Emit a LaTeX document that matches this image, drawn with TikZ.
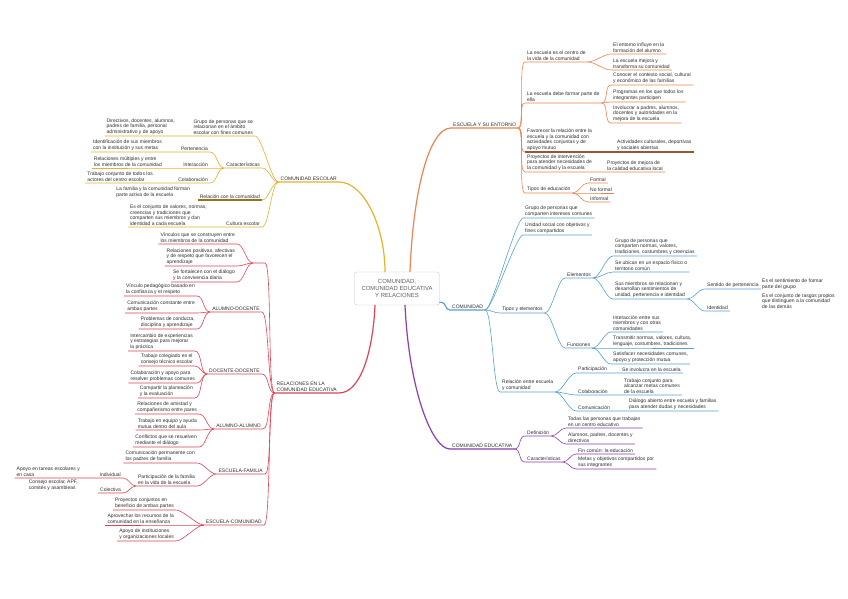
\documentclass[tikz,border=0pt]{standalone}
\usepackage{fontspec}
\setmainfont{Liberation Sans}
\usetikzlibrary{positioning}

\definecolor{ora}{RGB}{234,132,80}
\definecolor{ylw}{RGB}{231,178,40}
\definecolor{rdd}{RGB}{219,70,84}
\definecolor{blu}{RGB}{90,160,214}
\definecolor{prp}{RGB}{143,60,173}
\definecolor{ink}{RGB}{45,45,45}

\begin{document}
\begin{tikzpicture}[
    x=1pt, y=-1pt,
    font=\fontsize{5}{5.6}\selectfont,
    topic/.style={draw=black!22, rounded corners=2.5pt, fill=white, align=center,
                  text=black!62, font=\fontsize{5.9}{7}\selectfont,
                  minimum width=85pt, minimum height=33pt},
    sub/.style={align=left, text=ink, inner xsep=2pt, inner ysep=1.3pt},
    rs/.style={sub, anchor=south west},
    ls/.style={sub, anchor=south east},
    toR/.style={out=0, in=180, max distance=7pt},
    toL/.style={out=180, in=0, max distance=7pt},
    lnk/.style={draw=#1, line width=.6pt},
    trunk/.style={draw=#1, line width=1.2pt, line cap=round},
  ]

  \fill[white] (0,0) rectangle (848,599);

  %% ---- central topic ------------------------------------------------
  \node[topic] (TOP) at (397,288.5) {COMUNIDAD,\\ COMUNIDAD EDUCATIVA\\ Y RELACIONES};

  %% ---- escuela y entorno (orange) -------------------------------------
  \node[rs] (ESC) at (451,128) {ESCUELA Y SU ENTORNO};
  \node[rs] (O1)  at (525,62)  {La escuela es el centro de\\ la vida de la comunidad};
  \node[rs] (O1a) at (611,54)  {El entorno influye en la\\ formación del alumno};
  \node[rs] (O1b) at (611,70)  {La escuela mejora y\\ transforma su comunidad};
  \node[rs] (O2)  at (525,103) {La escuela debe formar parte de\\ ella};
  \node[rs] (O2a) at (611,85)  {Conocer el contexto social, cultural\\ y económico de las familias};
  \node[rs] (O2b) at (611,102) {Programas en los que todos los\\ integrantes participen};
  \node[rs] (O2c) at (611,123) {Involucrar a padres, alumnos,\\ docentes y autoridades en la\\ mejora de la escuela};
  \node[rs] (O3)  at (525,152) {Favorecer la relación entre la\\ escuela y la comunidad con\\ actividades conjuntas y de\\ apoyo mutuo};
  \node[rs] (O3a) at (615,152) {Actividades culturales, deportivas\\ y sociales abiertas};
  \node[rs] (O4)  at (525,172) {Proyectos de intervención\\ para atender necesidades de\\ la comunidad y la escuela};
  \node[rs] (O4a) at (605,172) {Proyectos de mejora de\\ la calidad educativa local};
  \node[rs] (O5)  at (525,193) {Tipos de educación};
  \node[rs] (O5a) at (588,183) {Formal};
  \node[rs] (O5b) at (588,193) {No formal};
  \node[rs] (O5c) at (588,202) {Informal};

  \draw[trunk=ora] ([xshift=13pt]TOP.north) .. controls +(3,-80) and +(-22,0) .. (ESC.south west) -- (ESC.south east);
  \draw[lnk=ora] (ESC.south east) to[toR] (O1.south west) -- (O1.south east);
  \draw[lnk=ora] (O1.south east) to[toR] (O1a.south west) -- (O1a.south east);
  \draw[lnk=ora] (O1.south east) to[toR] (O1b.south west) -- (O1b.south east);
  \draw[lnk=ora] (ESC.south east) to[toR] (O2.south west) -- (O2.south east);
  \draw[lnk=ora] (O2.south east) to[toR] (O2a.south west) -- (O2a.south east);
  \draw[lnk=ora] (O2.south east) to[toR] (O2b.south west) -- (O2b.south east);
  \draw[lnk=ora] (O2.south east) to[toR] (O2c.south west) -- (O2c.south east);
  \draw[lnk=ora] (ESC.south east) to[toR] (O3.south west);
  \draw[ora!65!black, line width=1.1pt] (O3.south west) -- (O3a.south east);
  \draw[lnk=ora] (ESC.south east) to[toR] (O4.south west) -- (O4.south east) -- (O4a.south west) -- (O4a.south east);
  \draw[lnk=ora] (ESC.south east) to[toR] (O5.south west) -- (O5.south east);
  \draw[lnk=ora] (O5.south east) to[toR] (O5a.south west) -- (O5a.south east);
  \draw[lnk=ora] (O5.south east) to[toR] (O5b.south west) -- (O5b.south east);
  \draw[lnk=ora] (O5.south east) to[toR] (O5c.south west) -- (O5c.south east);

  %% ---- comunidad (blue) -----------------------------------------------
  \node[rs] (COM)  at (450,310) {COMUNIDAD};
  \node[rs] (B1)   at (523,218) {Grupo de personas que\\ comparten intereses comunes};
  \node[rs] (B2)   at (523,235) {Unidad social con objetivos y\\ fines compartidos};
  \node[rs] (B3)   at (500,313) {Tipos y elementos};
  \node[rs] (Ele)  at (565,278) {Elementos};
  \node[rs] (c1)   at (613,256) {Grupo de personas que\\ comparten normas, valores,\\ tradiciones, costumbres y creencias};
  \node[rs] (c2)   at (613,272) {Se ubican en un espacio físico o\\ territorio común};
  \node[rs] (c3)   at (613,299) {Sus miembros se relacionan y\\ desarrollan sentimientos de\\ unidad, pertenencia e identidad};
  \node[rs] (Sen)  at (705,289) {Sentido de pertenencia};
  \node[rs] (Ide)  at (705,311) {Identidad};
  \node[rs] (N1)   at (760,291) {Es el sentimiento de formar\\ parte del grupo};
  \node[rs] (N2)   at (760,310) {Es el conjunto de rasgos propios\\ que distinguen a la comunidad\\ de las demás};
  \node[rs] (Fun)  at (565,348) {Funciones};
  \node[rs] (f1)   at (611,332) {Interacción entre sus\\ miembros y con otras\\ comunidades};
  \node[rs] (f2)   at (611,348) {Transmitir normas, valores, cultura,\\ lenguaje, costumbres, tradiciones};
  \node[rs] (f3)   at (611,364) {Satisfacer necesidades comunes,\\ apoyo y protección mutua};
  \node[rs] (B4)   at (500,392) {Relación entre escuela\\ y comunidad};
  \node[rs] (Par)  at (576,373) {Participación};
  \node[rs] (Par1) at (620,373) {Se involucra en la escuela};
  \node[rs] (Cola) at (576,395) {Colaboración};
  \node[rs] (Cola1) at (622,395) {Trabajo conjunto para\\ alcanzar metas comunes\\ de la escuela};
  \node[rs] (Comu) at (576,411) {Comunicación};
  \node[rs] (Comu1) at (627,411) {Diálogo abierto entre escuela y familias\\ para atender dudas y necesidades};

  \draw[trunk=blu] ([yshift=3pt]TOP.south east) .. controls +(8,0) and +(-6,0) .. (COM.south west) -- (COM.south east);
  \draw[lnk=blu] (COM.south east) to[toR] (B1.south west) -- (B1.south east);
  \draw[lnk=blu] (COM.south east) to[toR] (B2.south west) -- (B2.south east);
  \draw[lnk=blu] (COM.south east) to[toR] (B3.south west) -- (B3.south east);
  \draw[lnk=blu] (COM.south east) to[toR] (B4.south west) -- (B4.south east);
  \draw[lnk=blu] (B3.south east) to[toR] (Ele.south west) -- (Ele.south east);
  \draw[lnk=blu] (B3.south east) to[toR] (Fun.south west) -- (Fun.south east);
  \draw[lnk=blu] (Ele.south east) to[toR] (c1.south west) -- (c1.south east);
  \draw[lnk=blu] (Ele.south east) to[toR] (c2.south west) -- (c2.south east);
  \draw[lnk=blu] (Ele.south east) to[toR] (c3.south west) -- (c3.south east);
  \draw[lnk=blu] (c3.south east) to[toR] (Sen.south west) -- (Sen.south east);
  \draw[lnk=blu] (c3.south east) to[toR] (Ide.south west) -- (Ide.south east);
  \draw[lnk=blu] (Fun.south east) to[toR] (f1.south west) -- (f1.south east);
  \draw[lnk=blu] (Fun.south east) to[toR] (f2.south west) -- (f2.south east);
  \draw[lnk=blu] (Fun.south east) to[toR] (f3.south west) -- (f3.south east);
  \draw[lnk=blu] (B4.south east) to[toR] (Par.south west) -- (Par.south east) -- (Par1.south west) -- (Par1.south east);
  \draw[lnk=blu] (B4.south east) to[toR] (Cola.south west) -- (Cola.south east) -- (Cola1.south west) -- (Cola1.south east);
  \draw[lnk=blu] (B4.south east) to[toR] (Comu.south west) -- (Comu.south east) -- (Comu1.south west) -- (Comu1.south east);

  %% ---- comunidad educativa (purple) -----------------------------------
  \node[rs] (PUR)   at (450,449) {COMUNIDAD EDUCATIVA};
  \node[rs] (Def)   at (525,436) {Definición};
  \node[rs] (Def1)  at (566,428) {Todas las personas que trabajan\\ en un centro educativo};
  \node[rs] (Def2)  at (566,444) {Alumnos, padres, docentes y\\ directivos};
  \node[rs] (CarP)  at (525,462) {Características};
  \node[rs] (CarP1) at (576,454) {Fin común: la educación};
  \node[rs] (CarP2) at (576,469) {Metas y objetivos compartidos por\\ sus integrantes};

  \draw[trunk=prp] ([xshift=8pt]TOP.south) .. controls +(4,85) and +(-18,0) .. (PUR.south west) -- (PUR.south east);
  \draw[lnk=prp] (PUR.south east) to[toR] (Def.south west) -- (Def.south east);
  \draw[lnk=prp] (PUR.south east) to[toR] (CarP.south west) -- (CarP.south east);
  \draw[lnk=prp] (Def.south east) to[toR] (Def1.south west) -- (Def1.south east);
  \draw[lnk=prp] (Def.south east) to[toR] (Def2.south west) -- (Def2.south east);
  \draw[lnk=prp] (CarP.south east) to[toR] (CarP1.south west) -- (CarP1.south east);
  \draw[lnk=prp] (CarP.south east) to[toR] (CarP2.south west) -- (CarP2.south east);

  %% ---- comunidad escolar (yellow) -------------------------------------
  \node[ls] (YEL)   at (339,182) {COMUNIDAD ESCOLAR};
  \node[ls] (Y1)    at (255,136) {Grupo de personas que se\\ relacionan en el ámbito\\ escolar con fines comunes};
  \node[ls] (Y1a)   at (177,136) {Directivos, docentes, alumnos,\\ padres de familia, personal\\ administrativo y de apoyo};
  \node[ls] (CarY)  at (262,168) {Características};
  \node[ls] (Per)   at (210,152) {Pertenencia};
  \node[ls] (Per1)  at (164,152) {Identificación de sus miembros\\ con la institución y sus metas};
  \node[ls] (Int)   at (210,168) {Interacción};
  \node[ls] (Int1)  at (164,168) {Relaciones múltiples y entre\\ los miembros de la comunidad};
  \node[ls] (Col)   at (210,183) {Colaboración};
  \node[ls] (Col1)  at (155,183) {Trabajo conjunto de todos los\\ actores del centro escolar};
  \node[ls] (RelY)  at (262,200) {Relación con la comunidad};
  \node[ls] (RelY1) at (192,199) {La familia y la comunidad forman\\ parte activa de la escuela};
  \node[ls] (Cul)   at (262,227) {Cultura escolar};
  \node[ls] (Cul1)  at (209,227) {Es el conjunto de valores, normas,\\ creencias y tradiciones que\\ comparten sus miembros y dan\\ identidad a cada escuela};

  \draw[trunk=ylw] ([xshift=-12pt]TOP.north) .. controls +(0,-45) and +(25,0) .. (YEL.south east) -- (YEL.south west);
  \draw[lnk=ylw] (YEL.south west) to[toL] (Y1.south east) -- (Y1.south west) -- (Y1a.south east) -- (Y1a.south west);
  \draw[lnk=ylw] (YEL.south west) to[toL] (CarY.south east) -- (CarY.south west);
  \draw[lnk=ylw] (CarY.south west) to[toL] (Per.south east) -- (Per.south west) -- (Per1.south east) -- (Per1.south west);
  \draw[lnk=ylw] (CarY.south west) to[toL] (Int.south east) -- (Int.south west) -- (Int1.south east) -- (Int1.south west);
  \draw[lnk=ylw] (CarY.south west) to[toL] (Col.south east) -- (Col.south west) -- (Col1.south east) -- (Col1.south west);
  \draw[lnk=ylw] (YEL.south west) to[toL] (RelY.south east);
  \draw[ylw!65!black, line width=1.1pt] (RelY.south east) -- (RelY.south west);
  \draw[lnk=ylw] (YEL.south west) to[toL] (Cul.south east) -- (Cul.south west) -- (Cul1.south east) -- (Cul1.south west);

  %% ---- relaciones (red) -----------------------------------------------
  \node[ls] (RED) at (339,393) {RELACIONES EN LA\\ COMUNIDAD EDUCATIVA};
  \coordinate (R0e) at (265,263);
  \coordinate (R0w) at (253,263);
  \node[ls] (t1)  at (237,244) {Vínculos que se construyen entre\\ los miembros de la comunidad};
  \node[ls] (t2)  at (237,266) {Relaciones positivas, afectivas\\ y de respeto que favorecen el\\ aprendizaje};
  \node[ls] (t3)  at (237,282) {Se fortalecen con el diálogo\\ y la convivencia diaria};
  \node[ls] (AD)  at (262,312) {ALUMNO-DOCENTE};
  \node[ls] (AD1) at (197,296) {Vínculo pedagógico basado en\\ la confianza y el respeto};
  \node[ls] (AD2) at (197,313) {Comunicación constante entre\\ ambas partes};
  \node[ls] (AD3) at (197,329) {Problemas de conducta,\\ disciplina y aprendizaje};
  \node[ls] (DD)  at (262,374) {DOCENTE-DOCENTE};
  \node[ls] (DD1) at (195,351) {Intercambio de experiencias\\ y estrategias para mejorar\\ la práctica};
  \node[ls] (DD2) at (195,366) {Trabajo colegiado en el\\ consejo técnico escolar};
  \node[ls] (DD3) at (197,383) {Colaboración y apoyo para\\ resolver problemas comunes};
  \node[ls] (DD4) at (195,398) {Compartir la planeación\\ y la evaluación};
  \node[ls] (AA)  at (263,429) {ALUMNO-ALUMNO};
  \node[ls] (AA1) at (199,414) {Relaciones de amistad y\\ compañerismo entre pares};
  \node[ls] (AA2) at (199,430) {Trabajo en equipo y ayuda\\ mutua dentro del aula};
  \node[ls] (AA3) at (199,447) {Conflictos que se resuelven\\ mediante el diálogo};
  \node[ls] (EF)  at (265,474) {ESCUELA-FAMILIA};
  \node[ls] (EF1) at (197,463) {Comunicación permanente con\\ los padres de familia};
  \node[ls] (EF2) at (197,486) {Participación de la familia\\ en la vida de la escuela};
  \node[ls] (Ind) at (123,478) {Individual};
  \node[ls] (Ind1) at (82,478) {Apoyo en tareas escolares y\\ en casa};
  \node[ls] (Cle) at (123,493) {Colectiva};
  \node[ls] (Cle1) at (80,492) {Consejo escolar, APF,\\ comités y asambleas};
  \node[ls] (EC)  at (264,525) {ESCUELA-COMUNIDAD};
  \node[ls] (EC1) at (176,510) {Proyectos conjuntos en\\ beneficio de ambas partes};
  \node[ls] (EC2) at (176,525) {Aprovechar los recursos de la\\ comunidad en la enseñanza};
  \node[ls] (EC3) at (176,541) {Apoyo de instituciones\\ y organizaciones locales};

  \draw[trunk=rdd] ([xshift=-22pt]TOP.south) .. controls +(-2,45) and +(22,0) .. (RED.south east) -- (RED.south west);
  \draw[lnk=rdd] (RED.south west) to[toL] (R0e) -- (R0w);
  \draw[lnk=rdd] (R0w) to[toL] (t1.south east) -- (t1.south west);
  \draw[lnk=rdd] (R0w) to[toL] (t2.south east) -- (t2.south west);
  \draw[lnk=rdd] (R0w) to[toL] (t3.south east) -- (t3.south west);
  \draw[lnk=rdd] (RED.south west) to[toL] (AD.south east) -- (AD.south west);
  \draw[lnk=rdd] (AD.south west) to[toL] (AD1.south east) -- (AD1.south west);
  \draw[lnk=rdd] (AD.south west) to[toL] (AD2.south east) -- (AD2.south west);
  \draw[lnk=rdd] (AD.south west) to[toL] (AD3.south east) -- (AD3.south west);
  \draw[lnk=rdd] (RED.south west) to[toL] (DD.south east) -- (DD.south west);
  \draw[lnk=rdd] (DD.south west) to[toL] (DD1.south east) -- (DD1.south west);
  \draw[lnk=rdd] (DD.south west) to[toL] (DD2.south east) -- (DD2.south west);
  \draw[lnk=rdd] (DD.south west) to[toL] (DD3.south east) -- (DD3.south west);
  \draw[lnk=rdd] (DD.south west) to[toL] (DD4.south east) -- (DD4.south west);
  \draw[lnk=rdd] (RED.south west) to[toL] (AA.south east) -- (AA.south west);
  \draw[lnk=rdd] (AA.south west) to[toL] (AA1.south east) -- (AA1.south west);
  \draw[lnk=rdd] (AA.south west) to[toL] (AA2.south east) -- (AA2.south west);
  \draw[lnk=rdd] (AA.south west) to[toL] (AA3.south east) -- (AA3.south west);
  \draw[lnk=rdd] (RED.south west) to[toL] (EF.south east) -- (EF.south west);
  \draw[lnk=rdd] (EF.south west) to[toL] (EF1.south east) -- (EF1.south west);
  \draw[lnk=rdd] (EF.south west) to[toL] (EF2.south east) -- (EF2.south west);
  \draw[lnk=rdd] (EF2.south west) to[toL] (Ind.south east) -- (Ind.south west) -- (Ind1.south east) -- (Ind1.south west);
  \draw[lnk=rdd] (EF2.south west) to[toL] (Cle.south east) -- (Cle.south west);
  \draw[lnk=rdd] (RED.south west) to[toL] (EC.south east) -- (EC.south west);
  \draw[lnk=rdd] (EC.south west) to[toL] (EC1.south east) -- (EC1.south west);
  \draw[lnk=rdd] (EC.south west) to[toL] (EC2.south east) -- (EC2.south west);
  \draw[lnk=rdd] (EC.south west) to[toL] (EC3.south east) -- (EC3.south west);

\end{tikzpicture}
\end{document}
